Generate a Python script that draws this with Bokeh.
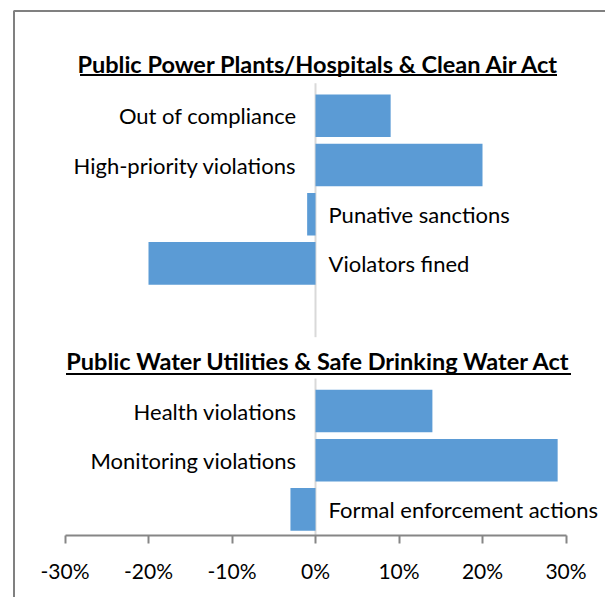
from bokeh.plotting import figure
from bokeh.models import Range1d, LinearAxis, FixedTicker, NumeralTickFormatter
from bokeh.core.properties import value
from bokeh.embed import file_html
from bokeh.resources import INLINE

# ---------------- data ----------------
title_air = "Public Power Plants/Hospitals & Clean Air Act"
air_categories = ["Out of compliance", "High-priority violations",
                  "Punative sanctions", "Violators fined"]
air_values = [0.09, 0.20, -0.01, -0.20]

title_water = "Public Water Utilities & Safe Drinking Water Act"
water_categories = ["Health violations", "Monitoring violations",
                    "Formal enforcement actions"]
water_values = [0.14, 0.29, -0.03]

tick_values = [-0.3, -0.2, -0.1, 0.0, 0.1, 0.2, 0.3]

# ---------------- layout constants ----------------
W, H = 605, 597
ZERO_PX, PX_PER_UNIT = 315.0, 835.0      # canvas x of 0%, px per 100%
ROW0_PX, ROW_PX = 66.1, 49.2             # canvas y of row 0, px per row
FONT = "Lato"
BAR_COLOR = "#5B9BD5"

def xdata(px):
    return (px - ZERO_PX) / PX_PER_UNIT

def ydata(px):
    return (px - ROW0_PX) / ROW_PX

x_range = Range1d(xdata(0), xdata(W))
y_range = Range1d(ydata(H), ydata(0))   # reversed: row 0 at top

p = figure(width=W, height=H, x_range=x_range, y_range=y_range,
           x_axis_type=None, y_axis_type=None,
           output_backend="svg", toolbar_location=None,
           background_fill_color="white", border_fill_color="white")
p.min_border = 0
p.min_border_left = p.min_border_right = p.min_border_top = p.min_border_bottom = 0
p.outline_line_color = None
p.xgrid.visible = False
p.ygrid.visible = False

axis_row = ydata(535)

# (title, categories, values, title row, title y shift px, underline y px)
groups = [
    (title_air, air_categories, air_values, 0, -2.5, 74.5),
    (title_water, water_categories, water_values, 6, -1.0, 373.5),
]

for gi, (title, cats, vals, title_row, t_shift, ul_px) in enumerate(groups):
    rows = [title_row + 1 + i for i in range(len(cats))]
    # zero line for the group
    y_top = rows[0] - 0.66
    y_bot = rows[-1] + 1.5 if gi == 0 else axis_row
    p.segment(x0=[0], y0=[y_top], x1=[0], y1=[y_bot],
              line_color="#D9D9D9", line_width=2)
    # bars
    p.hbar(y=rows, left=0, right=vals, height=0.865,
           fill_color=BAR_COLOR, line_color=None)
    # labels on the opposite side of the bar
    pos_rows = [r for r, v in zip(rows, vals) if v >= 0]
    pos_cats = [c for c, v in zip(cats, vals) if v >= 0]
    neg_rows = [r for r, v in zip(rows, vals) if v < 0]
    neg_cats = [c for c, v in zip(cats, vals) if v < 0]
    p.text(x=[0] * len(pos_rows), y=pos_rows, text=pos_cats, x_offset=-19,
           text_align="right", text_baseline="middle",
           text_font=value(FONT), text_font_size="22px", text_color="#000000")
    p.text(x=[0] * len(neg_rows), y=neg_rows, text=neg_cats, x_offset=13,
           text_align="left", text_baseline="middle",
           text_font=value(FONT), text_font_size="22px", text_color="#000000")
    # section title, bold and underlined
    p.text(x=[xdata(ZERO_PX + 3)], y=[title_row], text=[title], y_offset=t_shift,
           text_align="center", text_baseline="middle",
           text_font=value(FONT), text_font_style="bold",
           text_font_size="23.5px", text_color="#000000")
    width_px = 477 if gi == 0 else 505
    cx = ZERO_PX + 3
    p.segment(x0=[xdata(cx - width_px / 2)], y0=[ydata(ul_px)],
              x1=[xdata(cx + width_px / 2)], y1=[ydata(ul_px)],
              line_color="#000000", line_width=2)

# chart border (left and top edges visible in window)
bx = xdata(13.5)
by = ydata(10.5)
p.line(x=[bx, bx, xdata(W + 20)], y=[ydata(H + 20), by, by],
       line_color="#808080", line_width=2)

# x axis placed at the bottom of the bars
xaxis = LinearAxis(fixed_location=axis_row,
                   ticker=FixedTicker(ticks=tick_values),
                   formatter=NumeralTickFormatter(format="0%"),
                   bounds=(tick_values[0], tick_values[-1]))
xaxis.axis_line_color = "#868686"
xaxis.axis_line_width = 2
xaxis.major_tick_line_color = "#868686"
xaxis.major_tick_line_width = 2
xaxis.major_tick_in = 0
xaxis.major_tick_out = 8
xaxis.minor_tick_line_color = None
xaxis.major_label_standoff = 14
xaxis.major_label_text_font = FONT
xaxis.major_label_text_font_size = "21px"
xaxis.major_label_text_color = "#000000"
p.add_layout(xaxis, "below")

open("out.html", "w").write(file_html(p, INLINE))
